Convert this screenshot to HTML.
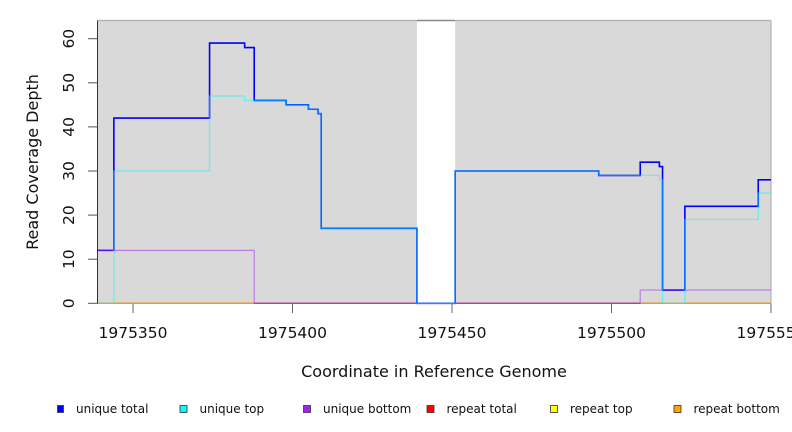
<!DOCTYPE html>
<html>
<head>
<meta charset="utf-8">
<style>
  html, body { margin:0; padding:0; background:#fff; }
  body { width:792px; height:432px; overflow:hidden; }
  svg { display:block; }
  text { font-family: "DejaVu Sans", "Liberation Sans", sans-serif; fill:#111; }
</style>
</head>
<body>
<svg width="792" height="432" viewBox="0 0 792 432" xmlns="http://www.w3.org/2000/svg">
  <!-- plot background regions -->
  <rect x="97.7" y="20.5" width="319.2" height="282.8" fill="#d9d9d9"/>
  <rect x="455.2" y="20.5" width="315.8" height="282.8" fill="#d9d9d9"/>
  <!-- borders -->
  <line x1="97.5" y1="20.5" x2="417" y2="20.5" stroke="#b0b0b0" stroke-width="1.2"/>
  <line x1="417" y1="20.5" x2="455.2" y2="20.5" stroke="#888" stroke-width="1.4"/>
  <line x1="455.2" y1="20.5" x2="771" y2="20.5" stroke="#b0b0b0" stroke-width="1.2"/>
  <line x1="771" y1="20.5" x2="771" y2="303.3" stroke="#b4b4b4" stroke-width="1.2"/>

  <!-- zero lines (repeat series) -->
  <line x1="97.7" y1="303.3" x2="254.2" y2="303.3" stroke="#f5961e" stroke-width="1.5"/>
  <line x1="254.2" y1="303.3" x2="640.2" y2="303.3" stroke="#d6487e" stroke-width="1.5"/>
  <line x1="640.2" y1="303.3" x2="771" y2="303.3" stroke="#f5961e" stroke-width="1.5"/>

  <!-- unique total (blue) -->
  <path d="M97.7,250.38 H113.86 V118.08 H209.56 V43.11 H244.65 V47.52 H254.22 V100.44 H286.12 V104.85 H308.45 V109.26 H318.02 V113.67 H321.21 V228.33 H416.91 V303.3 H455.19 V171.0 H598.74 V175.41 H640.21 V162.18 H659.35 V166.59 H662.54 V290.07 H684.87 V206.28 H758.24 V179.82 H771"
        fill="none" stroke="#0000ff" stroke-width="1.6"/>
  <!-- unique bottom (purple) -->
  <path d="M97.7,250.38 H254.22 V303.3 H640.21 V290.07 H771"
        fill="none" stroke="#a020f0" stroke-width="1.2" stroke-opacity="0.5"/>
  <!-- unique top (cyan) -->
  <path d="M97.7,303.3 H113.86 V171.0 H209.56 V96.03 H244.65 V100.44 H286.12 V104.85 H308.45 V109.26 H318.02 V113.67 H321.21 V228.33 H416.91 V303.3 H455.19 V171.0 H598.74 V175.41 H659.35 V179.82 H662.54 V303.3 H684.87 V219.51 H758.24 V193.05 H771"
        fill="none" stroke="#00ffff" stroke-width="1.3" stroke-opacity="0.5"/>

  <!-- left axis -->
  <line x1="97.5" y1="20.5" x2="97.5" y2="303.8" stroke="#333" stroke-width="1"/>
  <!-- y ticks -->
  <g stroke="#555" stroke-width="1">
    <line x1="88" y1="303.3" x2="97.5" y2="303.3"/>
    <line x1="88" y1="259.2" x2="97.5" y2="259.2"/>
    <line x1="88" y1="215.1" x2="97.5" y2="215.1"/>
    <line x1="88" y1="171.0" x2="97.5" y2="171.0"/>
    <line x1="88" y1="126.9" x2="97.5" y2="126.9"/>
    <line x1="88" y1="82.8" x2="97.5" y2="82.8"/>
    <line x1="88" y1="38.7" x2="97.5" y2="38.7"/>
  </g>
  <!-- x ticks -->
  <g stroke="#666" stroke-width="1">
    <line x1="133" y1="303.8" x2="133" y2="313"/>
    <line x1="292.5" y1="303.8" x2="292.5" y2="313"/>
    <line x1="452" y1="303.8" x2="452" y2="313"/>
    <line x1="611.5" y1="303.8" x2="611.5" y2="313"/>
    <line x1="771" y1="303.8" x2="771" y2="313"/>
  </g>

  <!-- y tick labels -->
  <g font-size="15.5" text-anchor="middle">
    <text transform="translate(74,303.3) rotate(-90)">0</text>
    <text transform="translate(74,259.2) rotate(-90)">10</text>
    <text transform="translate(74,215.1) rotate(-90)">20</text>
    <text transform="translate(74,171.0) rotate(-90)">30</text>
    <text transform="translate(74,126.9) rotate(-90)">40</text>
    <text transform="translate(74,82.8) rotate(-90)">50</text>
    <text transform="translate(74,38.7) rotate(-90)">60</text>
  </g>
  <!-- x tick labels -->
  <g font-size="15.5" text-anchor="middle">
    <text x="133" y="338">1975350</text>
    <text x="292.5" y="338">1975400</text>
    <text x="452" y="338">1975450</text>
    <text x="611.5" y="338">1975500</text>
    <text x="771" y="338">1975550</text>
  </g>

  <!-- axis titles -->
  <text x="434" y="377" font-size="16" text-anchor="middle">Coordinate in Reference Genome</text>
  <text transform="translate(38,162) rotate(-90)" font-size="16" text-anchor="middle">Read Coverage Depth</text>

  <!-- legend -->
  <g stroke="#333" stroke-width="0.8">
    <rect x="57.5" y="405.5" width="6" height="7" fill="#0000ff"/>
    <rect x="180" y="405.5" width="7" height="7" fill="#00ffff"/>
    <rect x="303.5" y="405.5" width="7" height="7" fill="#a020f0"/>
    <rect x="427" y="405.5" width="7" height="7" fill="#ff0000"/>
    <rect x="550.5" y="405.5" width="7" height="7" fill="#ffff00"/>
    <rect x="674" y="405.5" width="7" height="7" fill="#ffa500"/>
  </g>
  <g font-size="12">
    <text x="76" y="413">unique total</text>
    <text x="199.5" y="413">unique top</text>
    <text x="323" y="413">unique bottom</text>
    <text x="446.5" y="413">repeat total</text>
    <text x="570" y="413">repeat top</text>
    <text x="693.5" y="413">repeat bottom</text>
  </g>
</svg>
</body>
</html>
